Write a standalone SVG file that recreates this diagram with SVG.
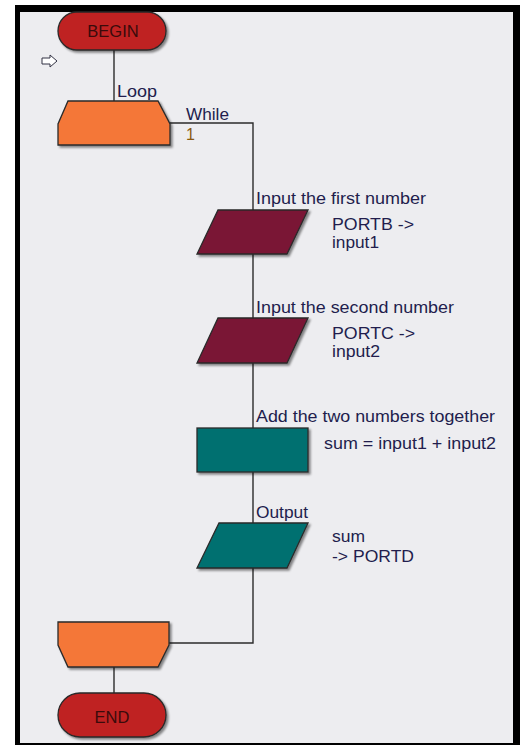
<svg xmlns="http://www.w3.org/2000/svg" width="526" height="745" viewBox="0 0 526 745">
<defs>
<filter id="sh" x="-10%" y="-10%" width="130%" height="140%">
<feDropShadow dx="2" dy="2" stdDeviation="1" flood-color="#000" flood-opacity="0.45"/>
</filter>
</defs>
<style>
.ln{stroke:#2b2b2b;stroke-width:1.4;fill:none}
.shp{stroke:#2a2a2a;stroke-width:1.3;filter:url(#sh)}
.term{fill:#bf2020}
.loop{fill:#f47738}
.io1{fill:#7a1535}
.teal{fill:#037070}
.t{font-family:"Liberation Sans",Arial,sans-serif;font-size:16px;fill:#221d4d}
.tt{font-family:"Liberation Sans",Arial,sans-serif;font-size:16.5px;fill:#3a0b0b;text-anchor:middle}
</style>
<rect x="0" y="0" width="526" height="745" fill="#fff"/>
<rect x="15" y="5" width="505" height="745" fill="#000"/>
<rect x="20" y="12" width="493" height="731" fill="#ededf0"/>

<g id="connectors">
<path class="ln" d="M114 50 V101"/>
<path class="ln" d="M170 123 H253 V643 H169"/>
<path class="ln" d="M114 667 V693"/>
</g>

<g id="arrow-icon">
<path d="M42 58 H50 V55 L57 61 L50 67 V64 H42 Z" fill="#fff" stroke="#334" stroke-width="1"/>
</g>

<g id="begin">
<rect class="shp term" x="58" y="12" width="108" height="38" rx="19"/>
<text class="tt" x="113" y="37">BEGIN</text>
</g>

<g id="loop-start">
<path class="shp loop" d="M68 101 H158 L170 124 V145 H58 V124 Z"/>
<text class="t" x="117" y="97" textLength="40" lengthAdjust="spacingAndGlyphs">Loop</text>
<text class="t" x="186" y="120" textLength="43" lengthAdjust="spacingAndGlyphs">While</text>
<text class="t" x="186" y="140" style="fill:#8a5a10">1</text>
</g>

<g id="input1">
<path class="shp io1" d="M218 210 H308 L287 254 H197 Z"/>
<text class="t" x="256" y="204" textLength="170" lengthAdjust="spacingAndGlyphs">Input the first number</text>
<text class="t" x="332" y="230" textLength="82" lengthAdjust="spacingAndGlyphs">PORTB -&gt;</text>
<text class="t" x="332" y="248" textLength="47" lengthAdjust="spacingAndGlyphs">input1</text>
</g>

<g id="input2">
<path class="shp io1" d="M218 318 H308 L287 363 H197 Z"/>
<text class="t" x="256" y="313" textLength="198" lengthAdjust="spacingAndGlyphs">Input the second number</text>
<text class="t" x="332" y="339" textLength="83" lengthAdjust="spacingAndGlyphs">PORTC -&gt;</text>
<text class="t" x="332" y="357" textLength="48" lengthAdjust="spacingAndGlyphs">input2</text>
</g>

<g id="calc">
<rect class="shp teal" x="197" y="428" width="111" height="44"/>
<text class="t" x="256" y="422" textLength="239" lengthAdjust="spacingAndGlyphs">Add the two numbers together</text>
<text class="t" x="324" y="449" textLength="172" lengthAdjust="spacingAndGlyphs">sum = input1 + input2</text>
</g>

<g id="output">
<path class="shp teal" d="M219 523 H308 L287 568 H197 Z"/>
<text class="t" x="256" y="518" textLength="52" lengthAdjust="spacingAndGlyphs">Output</text>
<text class="t" x="332" y="542" textLength="33" lengthAdjust="spacingAndGlyphs">sum</text>
<text class="t" x="332" y="562" textLength="82" lengthAdjust="spacingAndGlyphs">-&gt; PORTD</text>
</g>

<g id="loop-end">
<path class="shp loop" d="M58 622 H169 V645 L158 667 H68 L58 645 Z"/>
</g>

<g id="end">
<rect class="shp term" x="58" y="693" width="108" height="44" rx="22"/>
<text class="tt" x="112" y="723">END</text>
</g>
</svg>
